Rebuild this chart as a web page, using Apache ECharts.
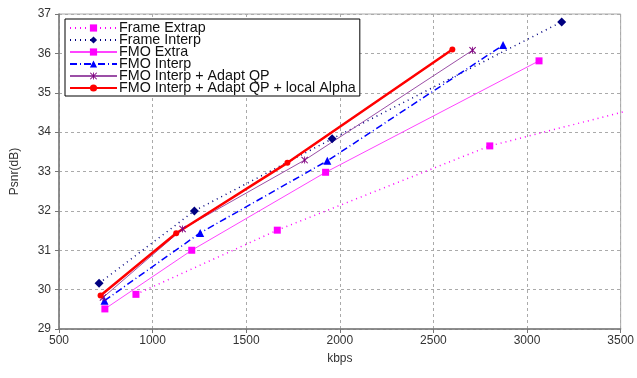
<!DOCTYPE html>
<html>
<head>
<meta charset="utf-8">
<script src="https://cdn.jsdelivr.net/npm/echarts@6/dist/echarts.min.js"></script>
<style>
  html, body { margin: 0; padding: 0; background: #fff; }
  #main { width: 637px; height: 378px; }
</style>
</head>
<body>
<div id="main"></div>
<script>
// PSNR vs bitrate, six coding schemes

var names = ['Frame Extrap', 'Frame Interp', 'FMO Extra', 'FMO Interp',
  'FMO Interp + Adapt QP', 'FMO Interp + Adapt QP + local Alpha'];

var frameExtrapX = [911, 1666, 2801, 3700];
var frameExtrapY = [29.88, 31.51, 33.65, 34.74];
var frameInterpX = [714, 1223, 1959, 3185];
var frameInterpY = [30.16, 32.0, 33.83, 36.8];
var fmoExtraX = [745, 1209, 1924, 3064];
var fmoExtraY = [29.51, 31.0, 32.98, 35.81];
var fmoInterpX = [743, 1254, 1933, 2872];
var fmoInterpY = [29.72, 31.44, 33.27, 36.21];
var adaptQpX = [735, 1160, 1812, 2709];
var adaptQpY = [29.8, 31.54, 33.29, 36.08];
var localAlphaX = [722, 1126, 1720, 2601];
var localAlphaY = [29.85, 31.43, 33.22, 36.1];

function pairs(xs, ys) {
  var out = [];
  for (var i = 0; i < xs.length; i++) out.push([xs[i], ys[i]]);
  return out;
}

var star = 'path://M0,1 L1,0 L10,9 L9,10 Z M9,0 L10,1 L1,10 L0,9 Z M4.4,0 L5.6,0 L5.6,10 L4.4,10 Z';

var chart = echarts.init(document.getElementById('main'));

var option = {
  animation: false,
  backgroundColor: '#fff',
  textStyle: { fontFamily: 'Liberation Sans, Arial, sans-serif' },
  grid: {
    left: 59, right: 14, top: 14, bottom: 49,
    show: true, borderColor: '#aaa', borderWidth: 1
  },
  legend: {
    orient: 'vertical',
    left: 65, top: 19,
    backgroundColor: '#fff',
    borderColor: '#000',
    borderWidth: 1,
    padding: [2, 4, 1, 4],
    itemWidth: 47,
    itemHeight: 9,
    itemGap: -2,
    textStyle: { color: '#111', fontSize: 14.3, lineHeight: 12, padding: [0, 0, 0, -3] },
    data: names
  },
  xAxis: {
    type: 'value',
    min: 500, max: 3500, interval: 500,
    name: 'kbps', nameLocation: 'middle', nameGap: 24,
    nameTextStyle: { color: '#333', fontSize: 12 },
    axisLine: { lineStyle: { color: '#777', width: 1.5 } },
    axisTick: { show: true, length: 4, lineStyle: { color: '#777' } },
    axisLabel: { color: '#333', fontSize: 12, margin: 6, formatter: function (v) { return String(v); } },
    splitLine: { show: true, lineStyle: { color: '#aaa', type: [3, 3] } }
  },
  yAxis: {
    type: 'value',
    min: 29, max: 37, interval: 1,
    name: 'Psnr(dB)', nameLocation: 'middle', nameGap: 38,
    nameTextStyle: { color: '#333', fontSize: 12 },
    axisLine: { show: true, lineStyle: { color: '#777', width: 1.5 } },
    axisTick: { show: true, length: 4, lineStyle: { color: '#777' } },
    axisLabel: { color: '#333', fontSize: 12, margin: 8 },
    splitLine: { show: true, lineStyle: { color: '#aaa', type: [3, 3] } }
  },
  series: [
    {
      name: names[0], type: 'line', data: pairs(frameExtrapX, frameExtrapY),
      symbol: 'rect', symbolSize: 7, showAllSymbol: true,
      itemStyle: { color: '#ff00ff' },
      lineStyle: { color: '#ff00ff', width: 1.5, type: [1, 4] }
    },
    {
      name: names[1], type: 'line', data: pairs(frameInterpX, frameInterpY),
      symbol: 'diamond', symbolSize: 9,
      itemStyle: { color: '#000080' },
      lineStyle: { color: '#000080', width: 1.5, type: [1, 4] }
    },
    {
      name: names[2], type: 'line', data: pairs(fmoExtraX, fmoExtraY),
      symbol: 'rect', symbolSize: 7,
      itemStyle: { color: '#ff00ff' },
      lineStyle: { color: '#ff44ff', width: 1 }
    },
    {
      name: names[3], type: 'line', data: pairs(fmoInterpX, fmoInterpY),
      symbol: 'triangle', symbolSize: 8,
      itemStyle: { color: '#0000ff' },
      lineStyle: { color: '#0000ff', width: 1.5, type: [7, 3, 1, 3] }
    },
    {
      name: names[4], type: 'line', data: pairs(adaptQpX, adaptQpY),
      symbol: star, symbolSize: 7,
      itemStyle: { color: '#800080' },
      lineStyle: { color: '#9b4fa6', width: 1 }
    },
    {
      name: names[5], type: 'line', data: pairs(localAlphaX, localAlphaY),
      symbol: 'circle', symbolSize: 6,
      itemStyle: { color: '#ff0000' },
      lineStyle: { color: '#ff0000', width: 2.5 }
    }
  ]
};

chart.setOption(option);
</script>
</body>
</html>
